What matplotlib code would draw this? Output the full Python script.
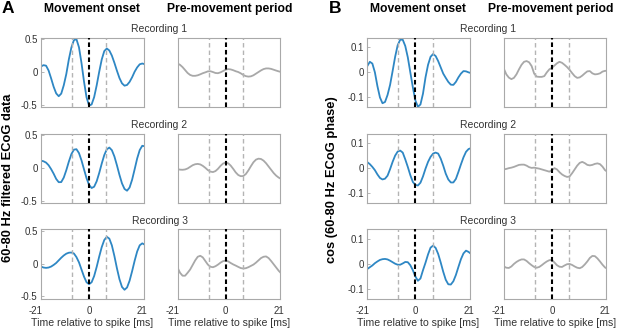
import numpy as np
import matplotlib
matplotlib.use("Agg")
import matplotlib.pyplot as plt
import matplotlib.transforms as mtransforms

plt.rcParams['font.family'] = ['Liberation Sans', 'DejaVu Sans']
plt.rcParams['axes.unicode_minus'] = False

# ---------------- data ----------------
time_ms = list(range(-20, 23))  # -20 .. 22 ms

# Panel A: 60-80 Hz filtered ECoG data
a_onset_rec1 = [0.05, 0.085, 0.105, 0.097, 0.023, -0.097, -0.226, -0.327, -0.37, -0.33,
                -0.202, -0.03, 0.193, 0.374, 0.487, 0.503, 0.379, 0.138, -0.147, -0.389,
                -0.513, -0.496, -0.384, -0.204, 0.004, 0.192, 0.32, 0.36, 0.329, 0.251,
                0.141, 0.02, -0.092, -0.173, -0.209, -0.198, -0.151, -0.08, 0.005, 0.071,
                0.118, 0.13, 0.12]
a_pre_rec1 = [0.15, 0.13, 0.11, 0.075, 0.03, -0.015, -0.045, -0.058, -0.058, -0.05,
              -0.035, -0.018, -0.005, 0.01, 0.012, 0.0, -0.015, -0.018, -0.005, 0.015,
              0.035, 0.045, 0.04, 0.028, 0.012, 0.0, -0.02, -0.045, -0.063, -0.07,
              -0.066, -0.05, -0.025, 0.0, 0.025, 0.045, 0.055, 0.055, 0.048, 0.035,
              0.022, 0.01, 0.0]
a_onset_rec2 = [0.11, 0.11, 0.10, 0.08, 0.04, -0.02, -0.09, -0.17, -0.22, -0.218,
                -0.149, -0.036, 0.095, 0.209, 0.278, 0.285, 0.226, 0.114, -0.024, -0.16,
                -0.262, -0.309, -0.289, -0.206, -0.079, 0.065, 0.195, 0.283, 0.31, 0.27,
                0.174, 0.039, -0.108, -0.238, -0.323, -0.35, -0.301, -0.182, -0.022, 0.143,
                0.271, 0.337, 0.33]
a_pre_rec2 = [-0.015, -0.02, -0.028, -0.03, -0.025, -0.01, 0.015, 0.04, 0.055, 0.06,
              0.052, 0.03, 0.0, -0.035, -0.058, -0.065, -0.05, -0.015, 0.03, 0.065,
              0.08, 0.07, 0.035, -0.015, -0.07, -0.11, -0.128, -0.125, -0.095, -0.04,
              0.025, 0.085, 0.125, 0.14, 0.135, 0.11, 0.07, 0.02, -0.03, -0.08,
              -0.12, -0.15, -0.17]
a_onset_rec3 = [-0.03, -0.045, -0.06, -0.065, -0.06, -0.045, -0.02, 0.01, 0.05, 0.09,
                0.125, 0.152, 0.167, 0.17, 0.155, 0.1, 0.02, -0.09, -0.2, -0.285,
                -0.315, -0.285, -0.19, -0.05, 0.108, 0.253, 0.361, 0.41, 0.382, 0.279,
                0.116, -0.071, -0.238, -0.357, -0.40, -0.365, -0.262, -0.116, 0.044, 0.186,
                0.28, 0.31, 0.29]
a_pre_rec3 = [0.0, -0.06, -0.14, -0.185, -0.185, -0.14, -0.09, -0.02, 0.05, 0.105,
              0.12, 0.095, 0.04, -0.015, -0.048, -0.055, -0.04, -0.015, 0.015, 0.038,
              0.045, 0.035, 0.01, -0.012, -0.03, -0.05, -0.068, -0.075, -0.07, -0.055,
              -0.035, -0.015, 0.015, 0.05, 0.085, 0.105, 0.11, 0.085, 0.04, -0.01,
              -0.06, -0.11, -0.15]

# Panel B: cos(60-80 Hz ECoG phase)
b_onset_rec1 = [0.0, 0.025, 0.042, 0.035, 0.0, -0.055, -0.1, -0.123, -0.118, -0.09,
                -0.05, 0.005, 0.062, 0.108, 0.13, 0.13, 0.105, 0.06, 0.0, -0.06,
                -0.112, -0.137, -0.128, -0.085, -0.02, 0.03, 0.062, 0.073, 0.065, 0.045,
                0.02, -0.005, -0.022, -0.038, -0.049, -0.05, -0.038, -0.02, -0.005, 0.005,
                0.004, 0.0, -0.003]
b_pre_rec1 = [0.03, 0.015, -0.008, -0.021, -0.027, -0.022, -0.008, 0.012, 0.03, 0.042,
              0.045, 0.04, 0.025, -0.005, -0.017, -0.018, -0.018, -0.015, 0.0, 0.012,
              0.018, 0.027, 0.036, 0.042, 0.038, 0.03, 0.021, 0.01, -0.003, -0.015,
              -0.022, -0.02, -0.013, -0.004, 0.004, 0.005, -0.004, -0.008, -0.007, -0.004,
              0.003, 0.006, 0.006]
b_onset_rec2 = [0.03, 0.024, 0.016, 0.005, -0.008, -0.025, -0.039, -0.045, -0.042, -0.03,
                -0.004, 0.025, 0.05, 0.066, 0.07, 0.062, 0.035, 0.005, -0.028, -0.055,
                -0.067, -0.069, -0.058, -0.033, -0.002, 0.025, 0.045, 0.058, 0.062, 0.058,
                0.038, 0.01, -0.022, -0.045, -0.057, -0.057, -0.043, -0.015, 0.015, 0.043,
                0.065, 0.076, 0.08]
b_pre_rec2 = [-0.006, -0.005, -0.003, 0.0, 0.002, 0.005, 0.009, 0.013, 0.014, 0.014,
              0.01, 0.004, 0.001, 0.002, 0.0, -0.002, -0.005, -0.008, -0.011, -0.014,
              -0.008, 0.0, -0.005, -0.016, -0.025, -0.031, -0.035, -0.033, -0.02, -0.005,
              0.01, 0.021, 0.025, 0.02, 0.013, 0.011, 0.013, 0.017, 0.019, 0.016,
              0.006, -0.008, -0.015]
b_onset_rec3 = [-0.025, -0.02, -0.013, -0.006, 0.003, 0.01, 0.016, 0.019, 0.02, 0.018,
                0.013, 0.007, 0.001, -0.003, -0.003, 0.002, 0.008, 0.007, -0.005, -0.025,
                -0.05, -0.067, -0.058, -0.025, 0.005, 0.038, 0.065, 0.073, 0.064, 0.04,
                0.006, -0.031, -0.063, -0.081, -0.082, -0.069, -0.044, -0.012, 0.019, 0.042,
                0.053, 0.048, 0.04]
b_pre_rec3 = [-0.005, -0.01, -0.015, -0.016, -0.01, 0.0, 0.008, 0.014, 0.018, 0.018,
              0.012, 0.003, -0.005, -0.012, -0.015, -0.012, -0.005, 0.003, 0.01, 0.015,
              0.016, 0.006, -0.005, -0.011, -0.012, -0.006, -0.001, 0.0, -0.004, -0.01,
              -0.015, -0.017, -0.012, -0.002, 0.01, 0.024, 0.032, 0.031, 0.022, 0.01,
              -0.003, -0.014, -0.02]

spike_time = 0.0
window_lines = [-6.7, 6.8]
x_tick_vals = [-21, 0, 21]
x_tick_labels = ['-21', '0', '21']
a_yticks = [-0.5, 0, 0.5]
a_yticklabels = ['-0.5', '0', '0.5']
b_yticks = [-0.1, 0, 0.1]
b_yticklabels = ['-0.1', '0', '0.1']
recording_titles = ['Recording 1', 'Recording 2', 'Recording 3']
col_titles = ['Movement onset', 'Pre-movement period']
a_ylabel = '60-80 Hz filtered ECoG data'
b_ylabel = 'cos (60-80 Hz ECoG phase)'
xlabel = 'Time relative to spike [ms]'

# ---------------- layout ----------------
W, H = 617, 329
fig = plt.figure(figsize=(W / 100, H / 100), dpi=100)

BLUE = '#2e87c4'
GRAY = '#a8a8a8'
SPINE = '#a9a9a9'
TXT = '#333333'

col_left = {('A', 0): 41.0, ('A', 1): 177.5, ('B', 0): 367.3, ('B', 1): 503.8}
ax_w = 102.5
row_top = [37.7, 133.5, 229.3]
ax_h = 69.3
xlim = (-19.0, 21.5)

data = {
    'A': [(a_onset_rec1, a_pre_rec1), (a_onset_rec2, a_pre_rec2), (a_onset_rec3, a_pre_rec3)],
    'B': [(b_onset_rec1, b_pre_rec1), (b_onset_rec2, b_pre_rec2), (b_onset_rec3, b_pre_rec3)],
}
ylims = {'A': (-0.535, 0.525), 'B': (-0.138, 0.138)}
yticks = {'A': (a_yticks, a_yticklabels), 'B': (b_yticks, b_yticklabels)}


def px_ax(left, top, w, h):
    return [left / W, 1 - (top + h) / H, w / W, h / H]


for panel in ['A', 'B']:
    for r in range(3):
        for c in range(2):
            ax = fig.add_axes(px_ax(col_left[(panel, c)], row_top[r], ax_w, ax_h))
            y = data[panel][r][c]
            ax.plot(time_ms, y, color=BLUE if c == 0 else GRAY, lw=1.3, zorder=2,
                    solid_capstyle='round')
            for wl in window_lines:
                ax.axvline(wl, color='#b4b4b4', lw=1.0, ls=(0, (3.2, 2.2)), zorder=3)
            ax.axvline(spike_time, color='black', lw=1.5, ls=(0, (2.2, 1.4)), zorder=4)
            ax.set_xlim(*xlim)
            ax.set_ylim(*ylims[panel])
            for s in ax.spines.values():
                s.set_color(SPINE)
                s.set_linewidth(0.8)
            if c == 0:
                ax.set_yticks(yticks[panel][0])
                ax.set_yticklabels(yticks[panel][1])
                ax.tick_params(axis='y', direction='in', length=2, width=0.6,
                               color=SPINE, labelsize=7, labelcolor=TXT, pad=2.5)
            else:
                ax.set_yticks([])
            if r == 2:
                vis = [v for v in x_tick_vals if xlim[0] <= v <= xlim[1]]
                ax.set_xticks(vis)
                ax.set_xticklabels([x_tick_labels[x_tick_vals.index(v)] for v in vis])
                ax.tick_params(axis='x', length=0, labelsize=7, labelcolor=TXT, pad=5)
                trans = mtransforms.blended_transform_factory(ax.transData, ax.transAxes)
                for v, lab in zip(x_tick_vals, x_tick_labels):
                    if v < xlim[0] or v > xlim[1]:
                        ax.annotate(lab, xy=(v, 0), xycoords=trans, xytext=(0, -5),
                                    textcoords='offset points', ha='center', va='top',
                                    fontsize=7, color=TXT, annotation_clip=False)
                ax.set_xlabel(xlabel, fontsize=7.6, color=TXT, labelpad=2)
            else:
                ax.set_xticks([])


def ftext(xp, yp, s, **kw):
    fig.text(xp / W, 1 - yp / H, s, **kw)


# panel letters and column headers
ftext(1.5, 12.7, 'A', fontsize=12.5, fontweight='bold', ha='left', va='baseline')
ftext(328.5, 12.7, 'B', fontsize=12.5, fontweight='bold', ha='left', va='baseline')
ftext(91.5, 12.3, col_titles[0], fontsize=8.7, fontweight='bold', ha='center', va='baseline')
ftext(230, 12.3, col_titles[1], fontsize=8.7, fontweight='bold', ha='center', va='baseline')
ftext(417.5, 12.3, col_titles[0], fontsize=8.7, fontweight='bold', ha='center', va='baseline')
ftext(551, 12.3, col_titles[1], fontsize=8.7, fontweight='bold', ha='center', va='baseline')

# recording titles
rec_base = [32.3, 127.9, 223.7]
for xc in [159.5, 488.0]:
    for r in range(3):
        ftext(xc, rec_base[r], recording_titles[r], fontsize=7.5, color=TXT,
              ha='center', va='baseline')

# y labels
ftext(8.5, 177.5, a_ylabel, fontsize=9.3, fontweight='bold', rotation=90,
      ha='center', va='center')
ftext(332.0, 180.0, b_ylabel, fontsize=9.3, fontweight='bold', rotation=90,
      ha='center', va='center')

fig.savefig('out.png', dpi=100)
